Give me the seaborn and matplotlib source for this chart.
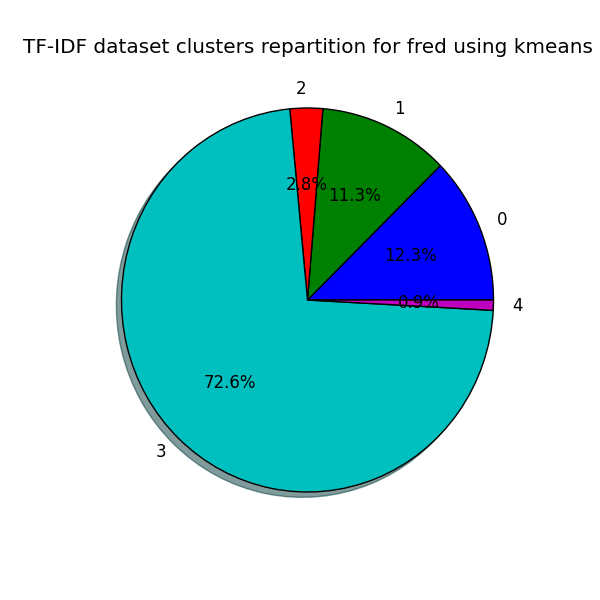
import matplotlib
matplotlib.use("Agg")
import matplotlib.pyplot as plt
import seaborn as sns

labels = ["0", "1", "2", "3", "4"]
shares = [12.34, 11.34, 2.84, 72.62, 0.86]
slice_colors = ["b", "g", "r", "c", "m"]

plt.style.use("classic")
palette = sns.color_palette(slice_colors)

fig = plt.figure(figsize=(6, 6), dpi=100)
ax = fig.add_subplot(111)
ax.pie(shares, labels=labels, colors=palette, autopct="%1.1f%%", shadow=True)
ax.set_title("TF-IDF dataset clusters repartition for fred using kmeans")
# old-style pie: axes not forced to equal aspect, so slightly stretched
ax.set_aspect("auto")

fig.savefig("out.png", dpi=100, facecolor="white")
